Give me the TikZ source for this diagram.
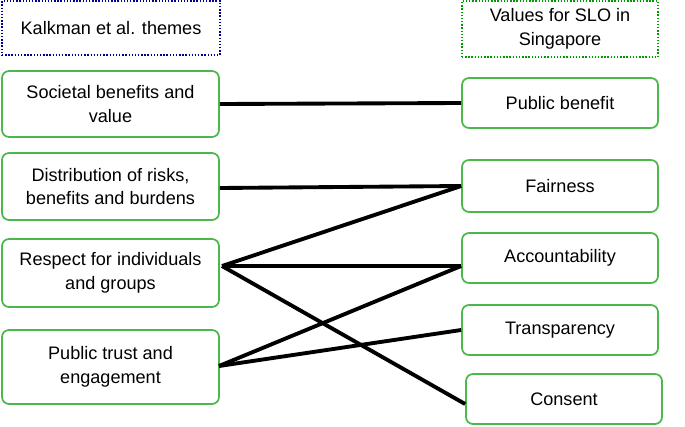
\documentclass[tikz,border=0pt]{standalone}
\usepackage{fontspec}
\setmainfont{Liberation Sans}
\begin{document}
\begin{tikzpicture}[x=0.02cm,y=-0.02cm,
    theme/.style={draw=green!60!black!70, line width=1pt, rounded corners=4pt, align=center, inner sep=0pt, font=\fontsize{10.3}{13.6}\selectfont},
    head/.style={line width=0.8pt, densely dotted, align=center, inner sep=0pt, font=\fontsize{10.3}{13.6}\selectfont},
    link/.style={line width=2.2pt}]
    \useasboundingbox (0,0) rectangle (685,426);
    % headers
    \node [head, draw=blue!60!black, minimum width=218*0.02cm, minimum height=54*0.02cm] (kh) at (111,28) {Kalkman et al. themes};
    \node [head, draw=green!60!black, minimum width=196*0.02cm, minimum height=56*0.02cm] (vh) at (560,29) {Values for SLO in\\Singapore};
    % left boxes
    \node [theme, minimum width=217*0.02cm, minimum height=66*0.02cm] (ben) at (110.5,104) {Societal benefits and\\value};
    \node [theme, minimum width=217*0.02cm, minimum height=67*0.02cm] (risk) at (110.5,186.5) {Distribution of risks,\\benefits and burdens};
    \node [theme, minimum width=217*0.02cm, minimum height=68*0.02cm] (resp) at (110.5,273) {Respect for individuals\\and groups};
    \node [theme, minimum width=217*0.02cm, minimum height=74*0.02cm] (trust) at (110.5,367) {Public trust and\\engagement};
    % right boxes
    \node [theme, minimum width=196*0.02cm, minimum height=50*0.02cm] (pub) at (560,103) {Public benefit};
    \node [theme, minimum width=196*0.02cm, minimum height=52*0.02cm] (fair) at (560,186) {Fairness};
    \node [theme, minimum width=196*0.02cm, minimum height=50*0.02cm] (acc) at (560,258) {Accountability};
    \node [theme, minimum width=196*0.02cm, minimum height=50*0.02cm] (tra) at (560,330) {Transparency};
    \node [theme, minimum width=196*0.02cm, minimum height=50*0.02cm] (con) at (564,399) {Consent};
    % links
    \coordinate (r3) at (222,266);
    \coordinate (r4) at (219,366);
    \draw [link] (ben.east) -- (pub.west);
    \draw [link] (risk.east |- 0,188) -- (fair.west);
    \draw [link] (r3) -- (fair.west);
    \draw [link] (r3) -- (acc.west |- 0,266);
    \draw [link] (r3) -- (con.west |- 0,404);
    \draw [link] (r4) -- (acc.west |- 0,266);
    \draw [link] (r4) -- (tra.west);
\end{tikzpicture}
\end{document}
